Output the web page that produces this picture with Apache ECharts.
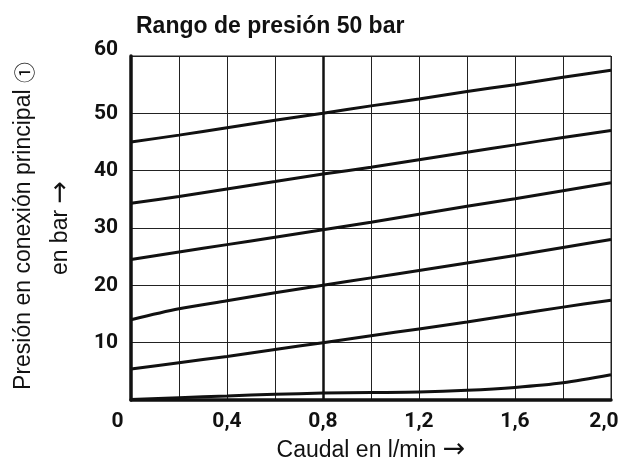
<!DOCTYPE html>
<html>
<head>
<meta charset="utf-8">
<script src="https://cdn.jsdelivr.net/npm/echarts@6/dist/echarts.min.js"></script>
<style>
  html, body { margin: 0; padding: 0; background: #fff; }
  #chart { width: 633px; height: 459px; }
</style>
</head>
<body>
<div id="chart"></div>
<script>
// Flow values (l/min) at which each pressure curve is sampled
const flow = [0, 0.2, 0.4, 0.6, 0.8, 1.0, 1.2, 1.4, 1.6, 1.8, 2.0];

// Pressure at the main port (bar), one curve per setting
const curve45 = [45.0, 46.2, 47.5, 48.8, 50.0, 51.3, 52.5, 53.8, 55.0, 56.3, 57.5];
const curve34 = [34.3, 35.5, 36.8, 38.1, 39.4, 40.6, 41.9, 43.2, 44.5, 45.8, 47.0];
const curve24 = [24.5, 25.8, 27.1, 28.4, 29.7, 31.0, 32.4, 33.8, 35.1, 36.5, 37.9];
const curve14 = [14.0, 15.9, 17.3, 18.7, 20.0, 21.3, 22.6, 23.9, 25.2, 26.6, 28.0];
const curve05 = [5.4, 6.5, 7.6, 8.8, 10.0, 11.2, 12.4, 13.6, 14.9, 16.2, 17.4];
const curve00 = [0.1, 0.4, 0.7, 1.0, 1.2, 1.3, 1.4, 1.7, 2.2, 3.0, 4.4];

const curves = [curve45, curve34, curve24, curve14, curve05, curve00];

// Axis tick labels
const xTickLabels = { 0: '0', 0.4: '0,4', 0.8: '0,8', 1.2: '1,2', 1.6: '1,6', 2.0: '2,0' };
const yTickLabels = [10, 20, 30, 40, 50, 60];

const title = 'Rango de presión 50 bar';
const xName = 'Caudal en l/min';
const yName1 = 'Presión en conexión principal';
const yName2 = 'en bar';
const arrow = '\u2192';
const portMark = '\u2460';

const tickFont = "Roboto, 'Liberation Sans', Arial, sans-serif";
const textFont = "'Liberation Sans', Arial, Helvetica, sans-serif";
const arrowFont = "'DejaVu Sans', sans-serif";
const markFont = "'Noto Sans CJK JP', 'DejaVu Sans', sans-serif";

const chart = echarts.init(document.getElementById('chart'), null, { renderer: 'canvas' });

const series = curves.map(c => ({
  type: 'line',
  data: flow.map((x, i) => [x, c[i]]),
  smooth: 0.3,
  showSymbol: false,
  symbol: 'none',
  lineStyle: { color: '#111', width: 3 },
  z: 5
}));

// Heavier reference line at 0.8 l/min
series.push({
  type: 'line',
  data: [],
  markLine: {
    silent: true,
    symbol: 'none',
    label: { show: false },
    lineStyle: { color: '#111', width: 2.5, type: 'solid' },
    data: [{ xAxis: 0.8 }]
  }
});

const tickStyle = { fontFamily: tickFont, fontWeight: 'bold', fontSize: 21, color: '#111' };

chart.setOption({
  animation: false,
  backgroundColor: '#fff',
  title: {
    text: title,
    left: 131,
    top: 10,
    textStyle: { fontFamily: textFont, fontWeight: 'bold', fontSize: 23, color: '#111' }
  },
  grid: {
    left: 131, right: 22, top: 56, bottom: 59,
    containLabel: false,
    outerBoundsMode: 'none',
    show: true, borderColor: '#222', borderWidth: 1, backgroundColor: 'transparent'
  },
  xAxis: {
    type: 'value',
    min: 0, max: 2.0, interval: 0.2,
    axisLine: { show: true, onZero: false, lineStyle: { color: '#111', width: 3.5 } },
    axisTick: { show: false },
    splitLine: { show: true, lineStyle: { color: '#222', width: 1 } },
    axisLabel: {
      margin: 11,
      ...tickStyle,
      formatter: v => {
        const k = Math.round(v * 10) / 10;
        if (k === 0) return '{first|0}';
        if (k === 2) return '{last|2,0}';
        return xTickLabels[k] !== undefined ? xTickLabels[k] : '';
      },
      rich: {
        first: { ...tickStyle, padding: [0, 27, 0, 0] },
        last: { ...tickStyle, padding: [0, 14, 0, 0] }
      }
    },
    name: '{t|' + xName + ' }{a|' + arrow + '}',
    nameLocation: 'middle',
    nameGap: 34,
    nameTextStyle: {
      rich: {
        t: { fontFamily: textFont, fontSize: 23, color: '#111' },
        a: { fontFamily: arrowFont, fontSize: 27, color: '#111' }
      }
    }
  },
  yAxis: {
    type: 'value',
    min: 0, max: 60, interval: 10,
    axisLine: { show: true, lineStyle: { color: '#111', width: 3.5 } },
    axisTick: { show: false },
    splitLine: { show: true, lineStyle: { color: '#222', width: 1 } },
    axisLabel: {
      margin: 13,
      ...tickStyle,
      formatter: v => {
        if (v === 60) return '{top|60}';
        return yTickLabels.indexOf(v) >= 0 ? String(v) : '';
      },
      rich: { top: { ...tickStyle, padding: [0, 0, 12, 0] } }
    }
  },
  graphic: [
    {
      type: 'text', x: 24, y: 226, rotation: Math.PI / 2,
      style: {
        text: '{t|' + yName1 + ' }{m|' + portMark + '}',
        align: 'center', verticalAlign: 'middle',
        rich: {
          t: { fontFamily: textFont, fontSize: 23, fill: '#111' },
          m: { fontFamily: markFont, fontSize: 21, fill: '#111' }
        }
      }
    },
    {
      type: 'text', x: 61, y: 228, rotation: Math.PI / 2,
      style: {
        text: '{t|' + yName2 + ' }{a|' + arrow + '}',
        align: 'center', verticalAlign: 'middle',
        rich: {
          t: { fontFamily: textFont, fontSize: 23, fill: '#111' },
          a: { fontFamily: arrowFont, fontSize: 27, fill: '#111' }
        }
      }
    }
  ],
  series: series
});
</script>
</body>
</html>
